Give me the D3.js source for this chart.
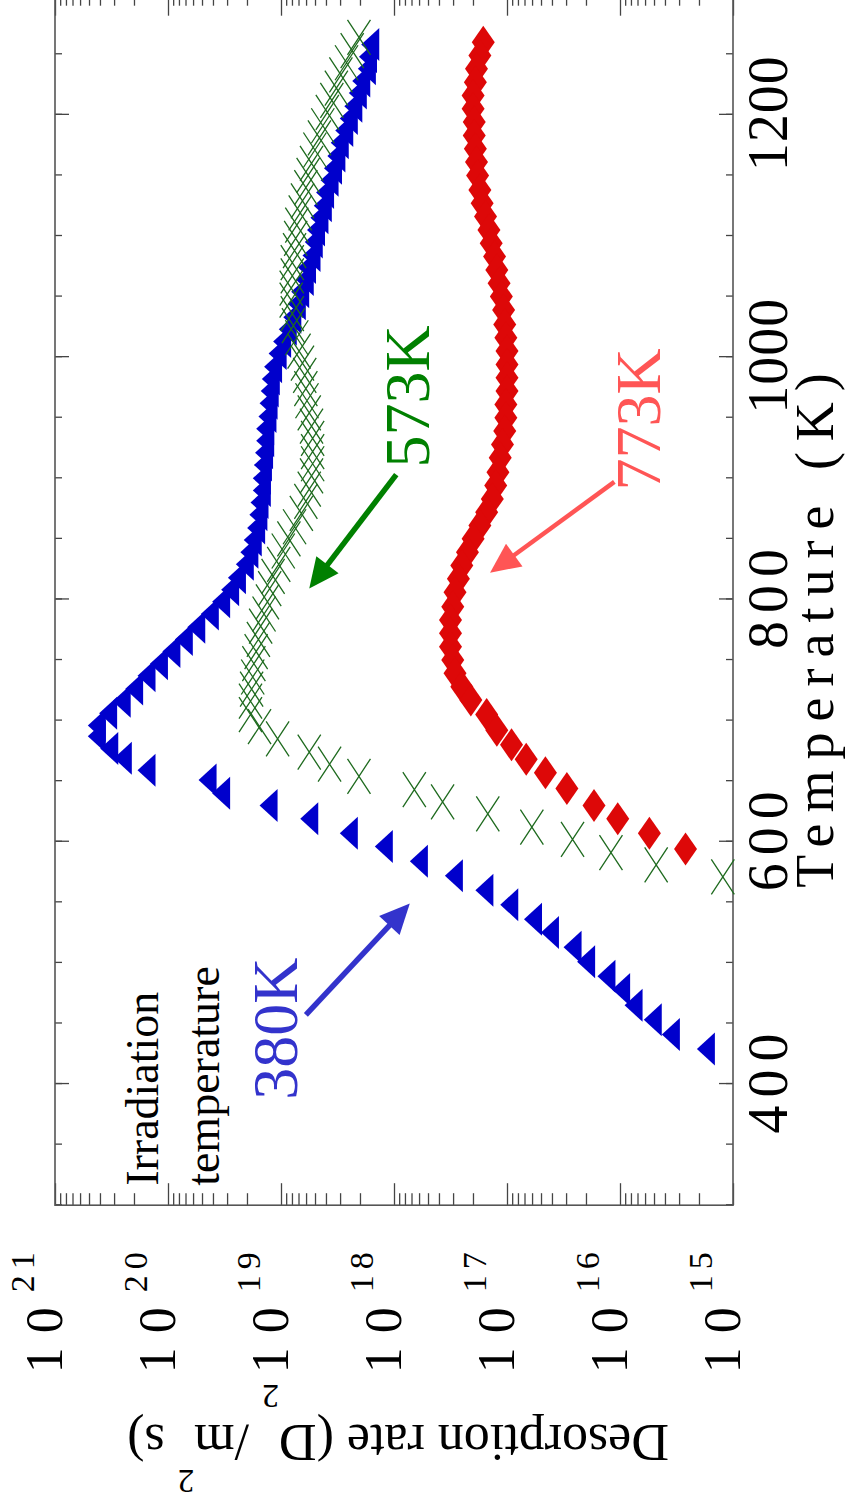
<!DOCTYPE html>
<html>
<head>
<meta charset="utf-8">
<script src="https://cdn.jsdelivr.net/npm/d3@7"></script>
<style>
  body { margin: 0; background: #fff; }
  text { font-family: "Liberation Serif", "Times New Roman", serif; }
</style>
</head>
<body>
<script>
'use strict';

// ---- data (temperature in K, desorption rate as log10 of D2/m2 s) ----
const blueTemp = [1258,1248,1238,1228,1218,1207,1197,1187,1177,1166,1156,1146,1136,1125,1115,1105,1095,1084,1074,1064,
  1054,1044,1033,1023,1013,1003,992,982,972,962,951,941,931,921,911,900,890,880,870,859,849,839,829,818,808,798,788,777,
  767,757,747,737,726,716,706,696,687,677,669,659,651,640,630,619,607,596,584,572,560,548,536,525,513,501,489,478,465,453,441,429];
const blueLog = [18.21,18.23,18.24,18.29,18.32,18.36,18.40,18.44,18.48,18.51,18.54,18.57,18.61,18.63,18.66,18.69,18.71,18.73,18.77,18.79,
  18.83,18.86,18.90,18.94,18.99,19.03,19.07,19.09,19.10,19.11,19.12,19.14,19.14,19.15,19.16,19.17,19.17,19.19,19.20,19.22,19.25,19.28,19.32,19.39,19.45,19.53,19.63,19.75,
  19.86,19.97,20.08,20.19,20.30,20.41,20.53,20.63,20.63,20.52,20.40,20.19,19.65,19.53,19.11,18.75,18.40,18.09,17.78,17.47,17.20,16.98,16.77,16.62,16.42,16.30,16.12,15.99,15.88,15.71,15.55,15.24];

const greenTemp = [1264,1253,1243,1233,1222,1212,1202,1191,1181,1171,1160,1150,1140,1129,1119,1109,1098,1088,1078,1067,
  1057,1047,1036,1026,1016,1005,995,985,974,964,954,943,933,922,912,902,891,881,871,860,850,840,829,819,809,798,788,778,
  767,757,747,736,726,716,705,695,685,674,664,654,643,633,623,612,602,591,581,571];
const greenLog = [18.31,18.37,18.42,18.47,18.51,18.55,18.59,18.63,18.66,18.70,18.73,18.76,18.78,18.81,18.83,18.86,18.87,18.88,18.90,18.90,
  18.91,18.91,18.90,18.89,18.86,18.84,18.81,18.79,18.78,18.77,18.75,18.73,18.72,18.72,18.72,18.73,18.75,18.78,18.82,18.88,18.93,18.98,19.02,19.07,19.10,19.12,19.15,19.18,
  19.20,19.22,19.24,19.25,19.26,19.27,19.27,19.19,19.03,18.75,18.57,18.31,17.82,17.57,17.17,16.78,16.42,16.08,15.68,15.09];

const redTemp = [1260,1249,1238,1227,1216,1205,1194,1183,1172,1161,1150,1138,1127,1116,1105,1094,1083,1072,1061,1050,
  1039,1027,1016,1005,994,983,972,961,950,939,928,917,905,894,883,872,861,850,839,828,817,806,794,783,772,761,750,739,728,
  717,705,692,680,668,657,644,630,619,607,594];
const redLog = [17.21,17.24,17.27,17.28,17.30,17.30,17.29,17.29,17.28,17.27,17.26,17.24,17.22,17.19,17.16,17.14,17.11,17.09,17.07,17.05,
  17.03,17.02,17.01,17.00,17.00,17.00,17.00,17.01,17.01,17.02,17.04,17.06,17.08,17.10,17.13,17.18,17.24,17.30,17.35,17.40,17.43,17.46,17.48,17.50,17.50,17.50,17.48,17.46,17.40,
  17.32,17.18,17.09,16.96,16.83,16.66,16.47,16.23,16.02,15.74,15.42];

const tempTicks = [400, 600, 800, 1000, 1200];
const tempMinor = d3.range(300, 1301, 50);
const rateExps = [15, 16, 17, 18, 19, 20, 21];

// annotations: [label, temperature, log10 rate, colour, size]
const labels = [
  ['573K', 909, 17.69, '#008000', 64],
  ['773K', 890, 15.65, '#ff5555', 64],
  ['380K', 387, 18.86, '#3333cc', 64],
  ['Irradiation', 316, 20.09, '#000', 46],
  ['temperature', 316, 19.55, '#000', 46]
];
// arrows: [tail T, tail log rate, head T, head log rate, colour, width]
const arrows = [
  [903, 17.98, 809, 18.75, '#008000', 5.5],
  [897, 16.05, 822, 17.15, '#ff5555', 4.5],
  [457, 18.78, 549, 17.86, '#3333cc', 5.5]
];

// ---- layout: chart drawn upright, then turned a quarter turn ----
const W = 1211.5, H = 678;

const x = d3.scaleLinear().domain([300, 1300]).range([0, W]);
const y = d3.scaleLog().domain([1e15, 1e21]).range([H, 0]);
const r = l => Math.pow(10, l);

const svg = d3.select('body').append('svg')
    .attr('width', 847)
    .attr('height', 1508);

const g = svg.append('g')
    .attr('transform', 'translate(55,1205.2) rotate(-90)');

function clean(sel) {
  sel.select('.domain').remove();
  sel.selectAll('line').attr('stroke', '#444').attr('stroke-width', 1.3);
}

// temperature ticks, bottom and top
g.append('g').attr('transform', `translate(0,${H})`)
    .call(d3.axisBottom(x).tickValues(tempMinor).tickSize(-7).tickFormat(''))
    .call(clean);
g.append('g')
    .call(d3.axisTop(x).tickValues(tempMinor).tickSize(-7).tickFormat(''))
    .call(clean);
const tAxis = g.append('g').attr('transform', `translate(0,${H})`)
    .call(d3.axisBottom(x).tickValues(tempTicks).tickSize(-14).tickFormat(d3.format('d')))
    .call(clean);
g.append('g')
    .call(d3.axisTop(x).tickValues(tempTicks).tickSize(-14).tickFormat(''))
    .call(clean);

tAxis.selectAll('text')
    .attr('y', 54).attr('dy', 0)
    .attr('dx', d => d >= 1000 ? 1 : 4)
    .attr('fill', '#000')
    .style('font-family', '"Liberation Serif", serif')
    .style('font-size', '56px')
    .style('letter-spacing', d => d >= 1000 ? '1px' : '8px');

// rate ticks, left and right
const minorR = y.ticks().filter(v => Math.abs(Math.log10(v) % 1) > 1e-6);
const decades = rateExps.map(r);
g.append('g').call(d3.axisLeft(y).tickValues(minorR).tickSize(-12).tickFormat('')).call(clean);
g.append('g').attr('transform', `translate(${W},0)`)
    .call(d3.axisRight(y).tickValues(minorR).tickSize(-12).tickFormat('')).call(clean);
g.append('g').call(d3.axisLeft(y).tickValues(decades).tickSize(-22).tickFormat('')).call(clean);
g.append('g').attr('transform', `translate(${W},0)`)
    .call(d3.axisRight(y).tickValues(decades).tickSize(-22).tickFormat('')).call(clean);

// frame
g.append('rect')
    .attr('width', W).attr('height', H)
    .attr('fill', 'none')
    .attr('stroke', '#555')
    .attr('stroke-width', 1.6);

// rate tick labels 10^n
const rl = g.selectAll('.rlab').data(rateExps).enter()
    .append('text')
    .attr('class', 'rlab')
    .attr('x', -168)
    .attr('y', d => y(r(d)) + 7)
    .style('font-size', '52px');
rl.append('tspan').text('1');
rl.append('tspan').attr('dx', 14).text('0');
rl.append('tspan').attr('dx', 15).attr('dy', -28)
    .style('font-size', '34px').style('letter-spacing', '6px')
    .text(d => d);

// axis titles
g.append('text')
    .attr('x', x(779)).attr('y', H + 100)
    .attr('text-anchor', 'middle')
    .style('font-size', '54px')
    .style('letter-spacing', '11px')
    .text('Temperature (K)');

const yt = g.append('text')
    .attr('transform', `translate(-220,${H / 2 + 4}) rotate(-90)`)
    .attr('text-anchor', 'middle')
    .style('font-size', '52px');
yt.append('tspan').text('Desorption rate (D');
yt.append('tspan').attr('dy', 40).style('font-size', '34px').text('2');
yt.append('tspan').attr('dy', -40).text(' /m');
yt.append('tspan').attr('dy', -45).style('font-size', '33px').text('2');
yt.append('tspan').attr('dy', 45).text(' s)');

// series
const tri = 'M0,-9L16.5,9L-16.5,9Z';
const dia = 'M-16.5,0L0,-11.5L16.5,0L0,11.5Z';
const cross = 'M-17.5,-11.5L17.5,11.5M-17.5,11.5L17.5,-11.5';

const blue = blueTemp.map((t, i) => ({ t: t, v: r(blueLog[i]) }));
const green = greenTemp.map((t, i) => ({ t: t, v: r(greenLog[i]) }));
const red = redTemp.map((t, i) => ({ t: t, v: r(redLog[i]) }));

g.selectAll('.b').data(blue).enter().append('path')
    .attr('class', 'b')
    .attr('d', tri)
    .attr('transform', d => `translate(${x(d.t)},${y(d.v)})`)
    .attr('fill', '#0000cc');

g.selectAll('.rd').data(red).enter().append('path')
    .attr('class', 'rd')
    .attr('d', dia)
    .attr('transform', d => `translate(${x(d.t)},${y(d.v)})`)
    .attr('fill', '#dd0808');

g.selectAll('.gx').data(green).enter().append('path')
    .attr('class', 'gx')
    .attr('d', cross)
    .attr('transform', d => `translate(${x(d.t)},${y(d.v)})`)
    .attr('fill', 'none')
    .attr('stroke', '#1f6b1f')
    .attr('stroke-width', 1.3);

// annotations
g.selectAll('.lab').data(labels).enter().append('text')
    .attr('class', 'lab')
    .attr('x', d => x(d[1]))
    .attr('y', d => y(r(d[2])))
    .attr('fill', d => d[3])
    .style('font-size', d => d[4] + 'px')
    .text(d => d[0]);

arrows.forEach(a => {
  const x0 = x(a[0]), y0 = y(r(a[1])), x1 = x(a[2]), y1 = y(r(a[3]));
  const len = Math.hypot(x1 - x0, y1 - y0);
  const ux = (x1 - x0) / len, uy = (y1 - y0) / len;
  const hl = 30, hw = 14;
  const bx = x1 - ux * hl, by = y1 - uy * hl;
  g.append('line')
      .attr('x1', x0).attr('y1', y0)
      .attr('x2', bx + ux * 2).attr('y2', by + uy * 2)
      .attr('stroke', a[4]).attr('stroke-width', a[5]);
  g.append('path')
      .attr('d', `M${x1},${y1}L${bx - uy * hw},${by + ux * hw}L${bx + uy * hw},${by - ux * hw}Z`)
      .attr('fill', a[4]);
});
</script>
</body>
</html>
